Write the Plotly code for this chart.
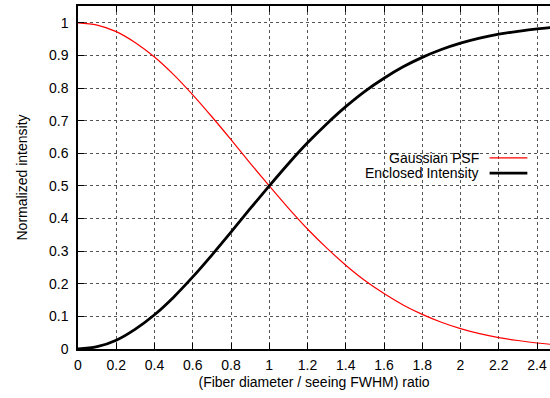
import plotly.graph_objects as go

x_vals = [0.0, 0.1, 0.2, 0.3, 0.4, 0.5, 0.6, 0.7, 0.8, 0.9, 1.0, 1.1, 1.2, 1.3,
          1.4, 1.5, 1.6, 1.7, 1.8, 1.9, 2.0, 2.1, 2.2, 2.3, 2.4, 2.5]
gaussian_psf = [1.0, 0.993, 0.973, 0.939, 0.895, 0.841, 0.779, 0.712, 0.642, 0.570,
                0.500, 0.432, 0.368, 0.310, 0.257, 0.210, 0.170, 0.135, 0.106, 0.082,
                0.0625, 0.047, 0.035, 0.026, 0.0184, 0.013]
enclosed_intensity = [0.0, 0.007, 0.027, 0.061, 0.105, 0.159, 0.221, 0.288, 0.358, 0.430,
                      0.500, 0.568, 0.632, 0.690, 0.743, 0.790, 0.830, 0.865, 0.894, 0.918,
                      0.9375, 0.953, 0.965, 0.974, 0.9816, 0.987]
x_ticks = [0, 0.2, 0.4, 0.6, 0.8, 1, 1.2, 1.4, 1.6, 1.8, 2, 2.2, 2.4]
x_tick_labels = ["0", "0.2", "0.4", "0.6", "0.8", "1", "1.2", "1.4", "1.6", "1.8", "2", "2.2", "2.4"]
y_ticks = [0, 0.1, 0.2, 0.3, 0.4, 0.5, 0.6, 0.7, 0.8, 0.9, 1]
y_tick_labels = ["0", "0.1", "0.2", "0.3", "0.4", "0.5", "0.6", "0.7", "0.8", "0.9", "1"]
series_names = ["Gaussian PSF", "Enclosed Intensity"]
series_colors = ["#ff0000", "#000000"]
series_widths = [1.2, 2.8]

FONT = "Liberation Sans, Arial, Helvetica, sans-serif"
FS = 14

fig = go.Figure()
for name, ys, col, w in zip(series_names, [gaussian_psf, enclosed_intensity], series_colors, series_widths):
    fig.add_trace(go.Scatter(x=x_vals, y=ys, mode="lines", name=name,
                             line=dict(color=col, width=w, shape="spline", smoothing=1.0),
                             showlegend=False))

# Gnuplot-style legend: right-aligned text with sample line on its right
legend_rows = [0.557, 0.513]
for name, col, w, yr in zip(series_names, series_colors, series_widths, legend_rows):
    fig.add_annotation(x=0.854, y=yr, xref="paper", yref="paper", text=name,
                       showarrow=False, xanchor="right", yanchor="middle",
                       font=dict(family=FONT, size=FS, color="#000"))
    fig.add_shape(type="line", xref="paper", yref="paper", x0=0.872, x1=0.952,
                  y0=yr, y1=yr, line=dict(color=col, width=w))

axis_common = dict(showgrid=True, gridcolor="#555", griddash="dot", gridwidth=1,
                   zeroline=False, showline=True, linecolor="#000", linewidth=1.5,
                   ticks="inside", ticklen=6, tickcolor="#000", tickwidth=1,
                   tickfont=dict(family=FONT, size=FS, color="#000"))

fig.update_xaxes(range=[0, 2.468], tickvals=x_ticks, ticktext=x_tick_labels,
                 mirror="ticks", ticklabelstandoff=2,
                 title=dict(text="(Fiber diameter / seeing FWHM) ratio",
                            font=dict(family=FONT, size=FS, color="#000"), standoff=6),
                 **axis_common)
fig.update_yaxes(range=[0, 1.0515], tickvals=y_ticks, ticktext=y_tick_labels,
                 mirror=False, ticklabelstandoff=5,
                 title=dict(text="Normalized intensity",
                            font=dict(family=FONT, size=FS, color="#000"), standoff=18),
                 **axis_common)

fig.update_layout(width=550, height=398,
                  margin=dict(l=78, r=0, t=6, b=49),
                  paper_bgcolor="#fff", plot_bgcolor="#fff",
                  font=dict(family=FONT, size=FS, color="#000"))

fig.write_html("out.html", config={"displayModeBar": False})
